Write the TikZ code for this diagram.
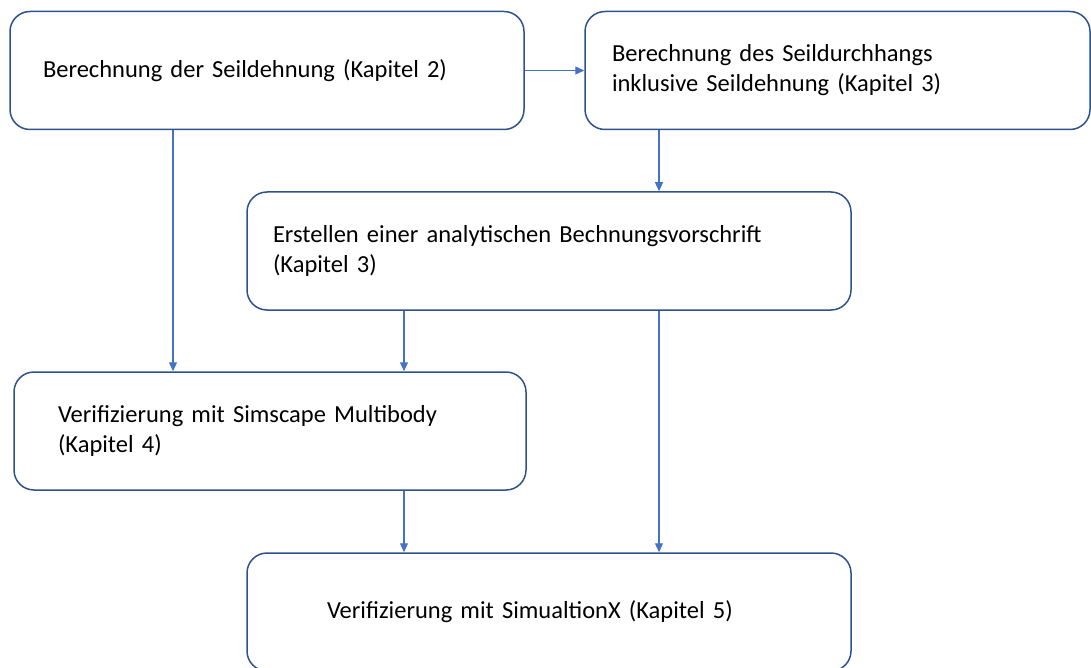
\documentclass[tikz,border=0pt]{standalone}
\usepackage{fontspec}
\setmainfont{Carlito}
\usetikzlibrary{arrows.meta,positioning,calc}
\definecolor{boxline}{HTML}{2F528F}
\definecolor{flowline}{HTML}{4472C4}
\tikzset{
  stepbox/.style={draw=boxline,line width=1.5pt,rounded corners=20pt,fill=white,
    align=left,minimum height=118pt,inner ysep=0pt,
    font=\fontsize{24.5}{30}\selectfont},
  flow/.style={draw=flowline,line width=1.2pt,-{Triangle[length=9pt,width=8pt]}}
}
\begin{document}
\begin{tikzpicture}[x=1pt,y=-1pt]
      \useasboundingbox (0,0) rectangle (1091,668);
      % boxes
      \node[stepbox,inner xsep=33pt,text width=448pt] (dehnung) at (267,70.5)
        {Berechnung der Seildehnung (Kapitel 2)};
      \node[stepbox,inner xsep=27pt,text width=451pt] (durchhang) at (837.5,70.5)
        {Berechnung des Seildurchhangs\\inklusive Seildehnung (Kapitel 3)};
      \node[stepbox,inner xsep=26pt,text width=552pt] (vorschrift) at (549,251)
        {Erstellen einer analytischen Bechnungsvorschrift\\(Kapitel 3)};
      \node[stepbox,inner xsep=44pt,text width=424pt] (simscape) at (270,431)
        {Verifizierung mit Simscape Multibody\\(Kapitel 4)};
      \node[stepbox,inner xsep=80pt,text width=444pt] (simx) at (549,612)
        {Verifizierung mit SimualtionX (Kapitel 5)};
      % arrows
      \draw[flow] (dehnung.east) -- (durchhang.west);
      \draw[flow] (173,0 |- dehnung.south) -- (173,0 |- simscape.north);
      \draw[flow] (659,0 |- durchhang.south) -- (659,0 |- vorschrift.north);
      \draw[flow] (404,0 |- vorschrift.south) -- (404,0 |- simscape.north);
      \draw[flow] (659,0 |- vorschrift.south) -- (659,0 |- simx.north);
      \draw[flow] (404,0 |- simscape.south) -- (404,0 |- simx.north);
\end{tikzpicture}
\end{document}
